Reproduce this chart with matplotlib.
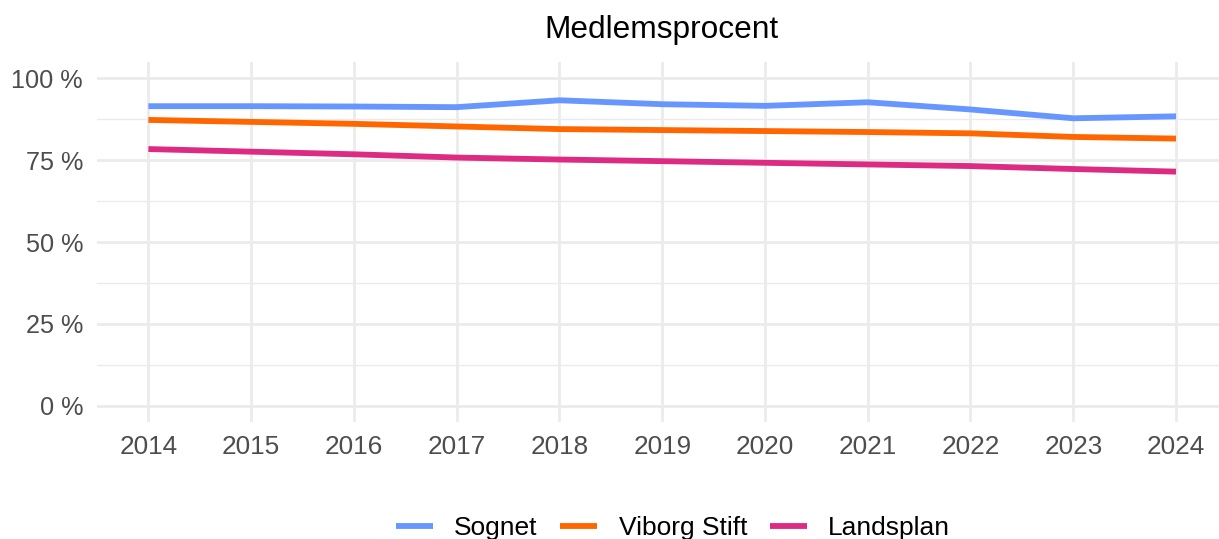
import matplotlib.pyplot as plt
from matplotlib.ticker import FuncFormatter, MultipleLocator

years = [2014, 2015, 2016, 2017, 2018, 2019, 2020, 2021, 2022, 2023, 2024]
sognet = [91.5, 91.5, 91.4, 91.2, 93.3, 92.1, 91.6, 92.7, 90.5, 87.8, 88.4]
viborg_stift = [87.3, 86.7, 86.1, 85.3, 84.5, 84.2, 83.9, 83.6, 83.2, 82.1, 81.6]
landsplan = [78.4, 77.6, 76.8, 75.8, 75.2, 74.7, 74.2, 73.7, 73.2, 72.3, 71.5]

series_names = ["Sognet", "Viborg Stift", "Landsplan"]
colors = ["#6896FF", "#FF6600", "#DD2A82"]

plt.rcParams['font.family'] = ['Liberation Sans', 'DejaVu Sans']

W, H = 1219, 539
fig = plt.figure(figsize=(W / 100, H / 100), dpi=100)
ax = fig.add_axes([97 / W, (H - 422) / H, (W - 97) / W, (422 - 62) / H])

for vals, name, c in zip([sognet, viborg_stift, landsplan], series_names, colors):
    ax.plot(years, vals, color=c, lw=4.2, label=name, solid_capstyle='butt')

ax.set_xlim(2013.5, 2024 + 43 / 102.8)
ax.set_ylim(-5, 105)
ax.set_xticks(years)
ax.yaxis.set_major_locator(MultipleLocator(25))
ax.yaxis.set_minor_locator(MultipleLocator(12.5))
ax.yaxis.set_major_formatter(FuncFormatter(lambda v, p: f"{v:.0f} %"))

ax.grid(which='major', color='#EBEBEB', lw=2.0)
ax.grid(which='minor', axis='y', color='#EBEBEB', lw=1.0)
ax.set_axisbelow(True)
for s in ax.spines.values():
    s.set_visible(False)
ax.tick_params(which='both', length=0)
ax.tick_params(axis='both', labelsize=18.8, labelcolor='#4D4D4D')
ax.tick_params(axis='x', pad=9)
ax.tick_params(axis='y', labelsize=18.2, pad=10)

fig.text(661 / W, 1 - 30 / H, "Medlemsprocent", ha='center', va='center', fontsize=22.8, color='black')

fig.legend(loc='center', bbox_to_anchor=(673 / W, 1 - 528 / H), ncol=3, frameon=False,
           fontsize=19, handlelength=1.4, handletextpad=0.8, columnspacing=0.87)

fig.savefig("out.png", dpi=100)
